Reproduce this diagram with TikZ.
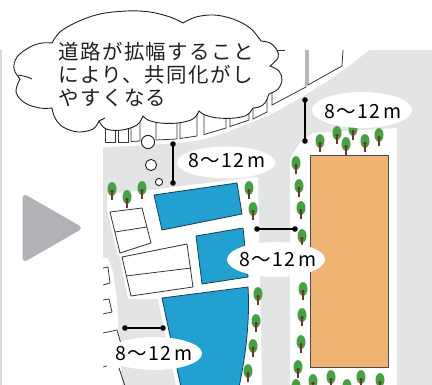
\documentclass[tikz,border=0pt]{standalone}
\usepackage{fontspec}
\newfontfamily\jpls{Noto Sans CJK JP}[LetterSpace=7]
\usetikzlibrary{shapes.geometric}
\definecolor{road}{HTML}{E3E4E4}
\definecolor{poolblue}{HTML}{22A0D2}
\definecolor{poolline}{HTML}{1B3D52}
\definecolor{plot}{HTML}{EFB474}
\definecolor{leaf}{HTML}{45A242}
\definecolor{trunk}{HTML}{6E3530}
\definecolor{playgray}{HTML}{B1B2B6}
\definecolor{edgegray}{HTML}{D9D9D9}
\definecolor{ink}{HTML}{231F20}
\begin{document}
\begin{tikzpicture}[x=1pt,y=-1pt,
  bldg/.style={draw=black!78,line width=0.8pt},
  pool/.style={fill=poolblue,draw=poolline,line width=0.8pt},
  house/.style={fill=white,draw=black!80,line width=0.8pt},
  bar/.style={line width=1.8pt,black},
  lbl/.style={font=\jpls\fontsize{19.5}{21}\selectfont,text=black,inner sep=0pt,anchor=base},
  cloudtxt/.style={font=\jpls\fontsize{20.5}{23}\selectfont,text=ink,inner sep=0pt,anchor=base west},
  cloudline/.style={draw=ink,fill=white,line width=0.9pt},
  tree/.pic={
    \fill[leaf] (0,0) ellipse [x radius=4.5, y radius=6.9];
    \draw[trunk,line width=1.3pt] (0,1.5) -- (0,11.5);
    \draw[trunk,line width=0.7pt] (0,4) -- (-1.7,2.3) (0,4) -- (1.7,2.3);
  }]
\useasboundingbox (0,0) rectangle (432,385);
\fill[white] (0,0) rectangle (432,385);

% side rule and play marker
\draw[edgegray,line width=1.5pt] (0.8,50) -- (0.8,385);
\fill[playgray,rounded corners=5pt] (22.5,228) -- (22.5,193) -- (83.5,228) -- (22.5,263) -- cycle;

% ---------------- map ----------------
\begin{scope}
\clip (103,50) rectangle (432,385);
\fill[road] (103,50) rectangle (432,385);
% ground between the roads
\fill[white] (103,50) -- (369,50) -- plot[smooth] coordinates
  {(369,50) (350,65) (320,86) (275,112) (240,127) (200,140) (150,145) (103,147)} -- cycle;
\fill[white] (107,194) -- (150,190) -- (240,179) -- (258,177) -- (262,386) -- (176,386)
  -- (158,299) -- (128,299) -- (120,258) -- (117,253) -- (107,210) -- cycle;
\fill[white] (103,258) -- (108,258) -- (113,272) -- (117,300) -- (122,386) -- (103,386) -- cycle;
\fill[white] (290,386) -- (290,158) -- (300,143) -- (313,133) -- (397,128) -- (397,386) -- cycle;

% houses along the curved road
\draw[bldg] (105,120) -- (105,142.5) -- (115,142.5) -- (115,120);
\draw[bldg] (118,120) -- (118,142) -- (128,142) -- (128,120);
\draw[bldg] (131,120) -- (131,141.5) -- (140,141) -- (140,120);
\draw[bldg] (156,116) -- (156,140) -- (177,139) -- (177,114);
\draw[bldg] (180,114) -- (180,138.5) -- (197,136) -- (197,112);
\draw[bldg] (204,112) -- (204,134.5) -- (226,128) -- (226,108);
\draw[bldg] (230,106) -- (230,126.5) -- (249,120) -- (249,100);
\draw[bldg] (253,98) -- (253,119) -- (267,112) -- (267,86);
\draw[bldg] (272,66) -- (272,105) -- (306,87) -- (306,50);
\draw[bldg] (308,50) -- (308,85) -- (342,66) -- (343,50);
\draw[bldg] (276,50) -- (285,50);

% houses along the left road
\draw[bldg] (103,268) -- (108,267) -- (110,283) -- (103,285);
\draw[bldg] (103,300) -- (109,299) -- (112,312) -- (103,314);
\draw[bldg] (103,333) -- (117,330) -- (121,344);
\draw[bldg] (103,367) -- (107,366);
\draw[bldg] (119,368) -- (125,386);

% blue blocks
\filldraw[pool] (154,195) -- (237,183) -- (242,214) -- (162,230) -- cycle;
\filldraw[pool] (196,236) -- (243,228) -- (248,277) -- (202,284) -- cycle;
\filldraw[pool] (162,298) -- (248,287) .. controls (250,320) and (246,355) .. (238,392)
  -- (182,392) -- cycle;

% white blocks
\filldraw[house] (110,212) -- (142,208) -- (151,243) -- (120,253) -- cycle;
\draw[bldg] (115,232) -- (147,227);
\filldraw[house] (122,257) -- (187,244) -- (193,287) -- (131,296) -- cycle;
\draw[bldg] (126,276) -- (191,268);

% orange plot
\filldraw[fill=plot,draw=black!70,line width=0.9pt] (310,155) rectangle (388,367);

% street trees
\foreach \p in {(112,189),(127,197),(142,188),(249,188),(253,209),
  (258,294),(256,321),(253,346),(248,371),
  (296,163),(299,186),(301,208),(302,236),(303,289),(302,315),(301,342),(298,367),(296,386),
  (320,141),(337,133),(346,144),(353,129),(365,141),(379,135),
  (313,381),(331,377),(347,386),(361,377),(380,380)}
  \pic at \p {tree};
\end{scope}

% ---------------- width labels ----------------
\fill[white] (362,110) ellipse [x radius=50, y radius=18];
\fill[white] (226,162.5) ellipse [x radius=49, y radius=16];
\fill[white] (276,259.5) ellipse [x radius=49, y radius=17.5];
\fill[white] (154.5,353.5) ellipse [x radius=47.5, y radius=16.5];
\node[lbl] (w1) at (363,119) {8〜12\,m};
\node[lbl] (w2) at (227,168) {8〜12\,m};
\node[lbl] (w3) at (278,266.5) {8〜12\,m};
\node[lbl] (w4) at (154,361) {8〜12\,m};

% measuring bars
\coordinate (b1a) at (305,100); \coordinate (b1b) at (305,141);
\coordinate (b2a) at (173,144); \coordinate (b2b) at (173,183);
\coordinate (b3a) at (257,229); \coordinate (b3b) at (295,229);
\coordinate (b4a) at (125,328); \coordinate (b4b) at (163,328);
\foreach \a/\b in {b1a/b1b,b2a/b2b,b3a/b3b,b4a/b4b}{
  \draw[bar] (\a) -- (\b);
  \fill (\a) circle [radius=2.8];
  \fill (\b) circle [radius=2.8];
}

% ---------------- thought cloud ----------------
\filldraw[cloudline] (52,43)
  -- plot[smooth,tension=0.6] coordinates {(52,43) (60,32) (77,22) (100,14) (127,11) (150,12) (170,17) (183,23)}
  -- plot[smooth,tension=0.6] coordinates {(183,23) (196,17) (214,15) (233,19) (250,28) (261,41)}
  -- plot[smooth,tension=0.6] coordinates {(261,41) (270,43) (277,50) (278,58) (270,66)}
  -- plot[smooth,tension=0.6] coordinates {(270,66) (279,71) (282,80) (278,89) (269,94)}
  -- plot[smooth,tension=0.6] coordinates {(269,94) (265,103) (259,107) (253,108)}
  -- plot[smooth,tension=0.6] coordinates {(253,108) (247,115) (235,118) (218,118) (205,115) (199,111)}
  -- plot[smooth,tension=0.6] coordinates {(199,111) (193,119) (178,123) (160,123) (148,120) (143,116)}
  -- plot[smooth,tension=0.6] coordinates {(143,116) (137,125) (122,130) (106,129) (99,121)}
  -- plot[smooth,tension=0.6] coordinates {(99,121) (93,129) (78,132) (63,127) (55,118) (52,108)}
  -- plot[smooth,tension=0.6] coordinates {(52,108) (40,108) (25,103) (16,92) (20,79)}
  -- plot[smooth,tension=0.6] coordinates {(20,79) (14,69) (17,57) (30,47) (42,43) (52,43)}
  -- cycle;
\draw[ink,line width=0.9pt] (18,75) .. controls (24,76) and (28,77) .. (32,79);
\draw[ink,line width=0.9pt] (99,121) -- (105,118);
\node[cloudtxt] (t1) at (58,60) {道路が拡幅すること};
\node[cloudtxt] (t2) at (58,83) {により、共同化がし};
\node[cloudtxt] (t3) at (58,106) {やすくなる};

% trailing bubbles
\filldraw[cloudline] (148,142) circle [radius=6.6];
\filldraw[cloudline] (151,165) circle [radius=5.6];
\filldraw[cloudline] (159,182) circle [radius=3.6];
\end{tikzpicture}
\end{document}
